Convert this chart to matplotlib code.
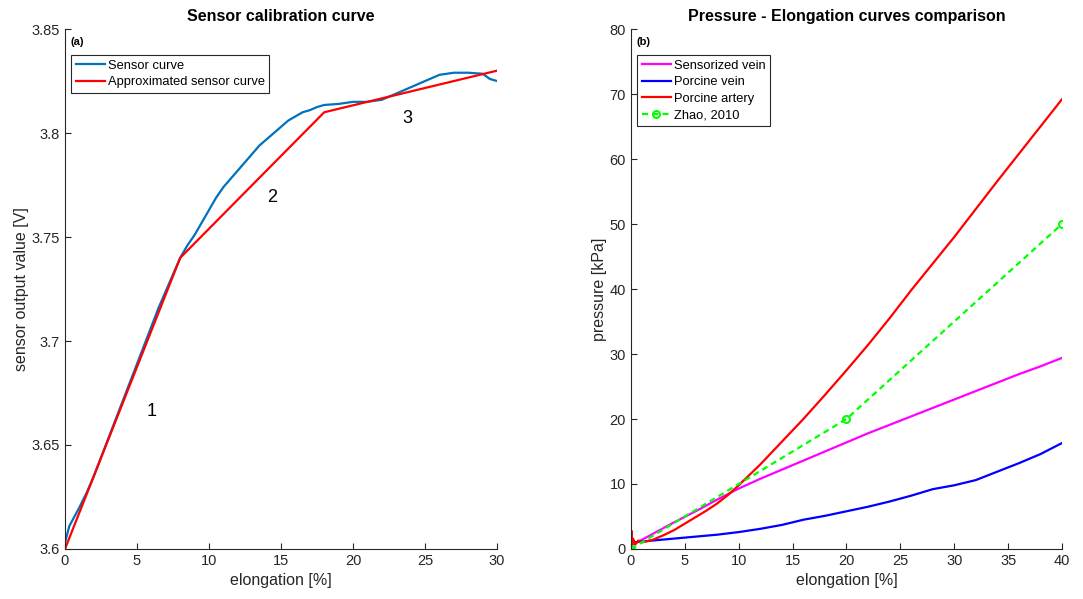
import matplotlib
matplotlib.use("Agg")
from matplotlib import pyplot as plt

plt.rcParams['font.family'] = ['Liberation Sans', 'DejaVu Sans']

# (a) sensor calibration
sens_x = [0, 0.3, 1, 1.5, 2, 2.5, 3, 3.5, 4, 4.5, 5, 5.5, 6, 6.5, 7, 7.5, 8, 8.5, 9, 9.5, 10,
          10.5, 11, 11.5, 12, 12.5, 13, 13.5, 14, 14.5, 15, 15.5, 16, 16.5, 17, 17.5, 18, 19,
          20, 21, 22, 23, 24, 25, 26, 27, 28, 29, 29.5, 30]
sens_y = [3.603, 3.611, 3.620, 3.627, 3.635, 3.644, 3.653, 3.662, 3.671, 3.680, 3.689, 3.698,
          3.707, 3.716, 3.724, 3.732, 3.740, 3.746, 3.751, 3.757, 3.763, 3.769, 3.774, 3.778,
          3.782, 3.786, 3.790, 3.794, 3.797, 3.800, 3.803, 3.806, 3.808, 3.810, 3.811, 3.8125,
          3.8135, 3.814, 3.815, 3.815, 3.816, 3.819, 3.822, 3.825, 3.828, 3.829, 3.829, 3.8285,
          3.826, 3.825]
approx_x = [0, 8, 18, 30]
approx_y = [3.60, 3.74, 3.81, 3.83]
seg_labels = ['1', '2', '3']
seg_x = [6.0, 14.4, 23.8]
seg_y = [3.666, 3.769, 3.807]

# (b) pressure vs elongation
elong = [0, 2, 4, 6, 8, 10, 12, 14, 16, 18, 20, 22, 24, 26, 28, 30, 32, 34, 36, 38, 40]
sensorized = [0.5, 2.3, 4.1, 5.8, 7.6, 9.3, 10.8, 12.2, 13.6, 15.0, 16.4, 17.8, 19.1,
              20.4, 21.7, 23.0, 24.3, 25.6, 26.9, 28.1, 29.4]
porc_vein = [1.0, 1.3, 1.6, 1.9, 2.2, 2.6, 3.1, 3.7, 4.5, 5.1, 5.8, 6.5, 7.3, 8.2, 9.2,
             9.8, 10.6, 11.9, 13.2, 14.6, 16.3]
artery_x = [0, 0.05, 0.1, 0.2, 0.4, 0.7, 1, 2, 3, 4, 5, 6, 7, 8, 9, 10, 12, 14, 16, 18, 20,
            22, 24, 26, 28, 30, 32, 34, 36, 38, 40]
porc_artery = [0.3, 2.8, 0.6, 1.6, 0.7, 1.3, 1.0, 1.4, 2.1, 2.9, 3.9, 4.9, 5.9, 7.0, 8.3,
               9.8, 13.0, 16.5, 20.0, 23.7, 27.5, 31.4, 35.5, 39.8, 43.9, 48.0, 52.3, 56.6,
               60.8, 65.0, 69.2]
zhao_x = [0, 20, 40]
zhao_y = [0, 20, 50]

fig = plt.figure(figsize=(10.83, 5.99), dpi=100)
ax1 = fig.add_axes([0.060, 0.0835, 0.399, 0.868])
ax2 = fig.add_axes([0.5826, 0.0835, 0.398, 0.868])

gray = '#262626'
for ax in (ax1, ax2):
    ax.spines['top'].set_visible(False)
    ax.spines['right'].set_visible(False)
    ax.spines['left'].set_color(gray)
    ax.spines['bottom'].set_color(gray)
    ax.tick_params(direction='in', colors=gray, labelsize=10.5, length=4)

ax1.plot(sens_x, sens_y, color='#0072BD', lw=1.6, label='Sensor curve')
ax1.plot(approx_x, approx_y, color='#FF0000', lw=1.6, label='Approximated sensor curve')
for t, x, y in zip(seg_labels, seg_x, seg_y):
    ax1.text(x, y, t, fontsize=13, ha='center', va='center')
ax1.set_xlim(0, 30)
ax1.set_ylim(3.6, 3.85)
ax1.set_xticks([0, 5, 10, 15, 20, 25, 30])
ax1.set_yticks([3.6, 3.65, 3.7, 3.75, 3.8, 3.85])
ax1.set_yticklabels(['3.6', '3.65', '3.7', '3.75', '3.8', '3.85'])
ax1.set_xlabel('elongation [%]', fontsize=11.5, color=gray)
ax1.set_ylabel('sensor output value [V]', fontsize=11.5, color=gray, labelpad=2)
ax1.set_title('Sensor calibration curve', fontsize=11.5, fontweight='bold')
ax1.text(0.012, 0.985, '(a)', transform=ax1.transAxes, fontsize=8, fontweight='bold', va='top')
leg1 = ax1.legend(loc='upper left', bbox_to_anchor=(0.008, 0.955), fontsize=9.3,
                  fancybox=False, framealpha=1, edgecolor=gray, handlelength=2.3,
                  handletextpad=0.2, borderpad=0.35, labelspacing=0.35, borderaxespad=0.2)
leg1.get_frame().set_linewidth(0.8)

ax2.plot(elong, sensorized, color='#FF00FF', lw=1.6, label='Sensorized vein')
ax2.plot(elong, porc_vein, color='#0000FF', lw=1.6, label='Porcine vein')
ax2.plot(artery_x, porc_artery, color='#FF0000', lw=1.6, label='Porcine artery')
ax2.plot(zhao_x, zhao_y, color='#00FF00', lw=1.6, ls='--', dashes=(2.7, 1.9), marker='o',
         ms=5, mfc='none', mew=1.5, label='Zhao, 2010')
ax2.set_xlim(0, 40)
ax2.set_ylim(0, 80)
ax2.set_xticks(range(0, 41, 5))
ax2.set_yticks(range(0, 81, 10))
ax2.set_xlabel('elongation [%]', fontsize=11.5, color=gray)
ax2.set_ylabel('pressure [kPa]', fontsize=11.5, color=gray, labelpad=2)
ax2.set_title('Pressure - Elongation curves comparison', fontsize=11.5, fontweight='bold')
ax2.text(0.012, 0.985, '(b)', transform=ax2.transAxes, fontsize=8, fontweight='bold', va='top')
leg2 = ax2.legend(loc='upper left', bbox_to_anchor=(0.008, 0.955), fontsize=9.3,
                  fancybox=False, framealpha=1, edgecolor=gray, handlelength=2.3,
                  handletextpad=0.2, borderpad=0.35, labelspacing=0.35, borderaxespad=0.2)
leg2.get_frame().set_linewidth(0.8)

fig.savefig('out.png', dpi=100)
